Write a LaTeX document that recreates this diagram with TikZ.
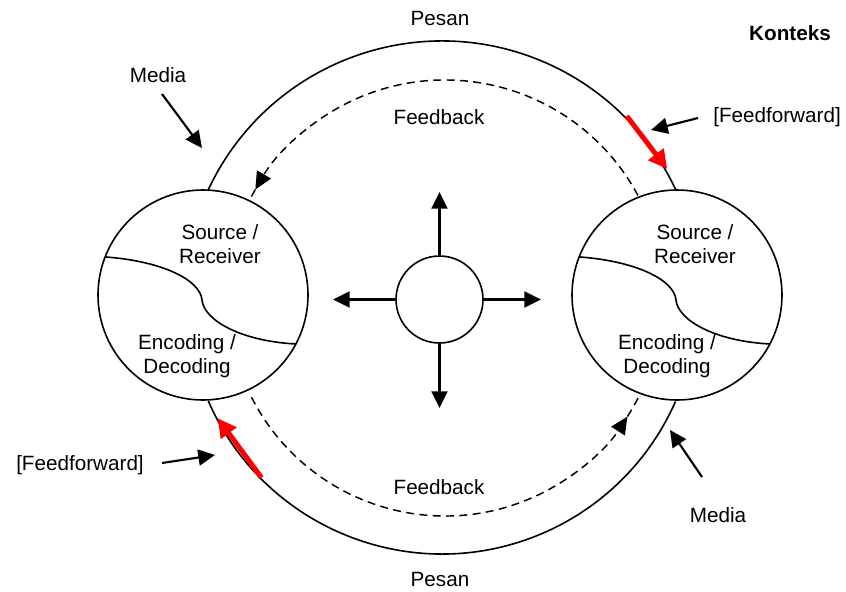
\documentclass[tikz,border=0pt]{standalone}
\usepackage{fontspec}
\setmainfont{Liberation Sans}
\usetikzlibrary{arrows.meta, calc}

\begin{document}
\begin{tikzpicture}[x=0.75pt,y=0.75pt,yscale=-1,xscale=1,
  txt/.style={inner sep=0.75pt, font=\fontsize{15.5}{18}\selectfont, align=center},
  ring/.style={circle, draw, line width=1.2pt, minimum size=157.5pt, inner sep=0pt},
  hub/.style={circle, draw, line width=1.2pt, minimum size=65.25pt, inner sep=0pt},
  arr/.style={line width=1.6pt, -{Triangle[length=12.5pt,width=12pt]}},
  redarr/.style={draw={rgb, 255:red, 255; green, 0; blue, 0}, line width=3.75pt, -{Triangle[length=14pt,width=14pt]}},
  fb/.style={line width=1.1pt, dash pattern=on 6pt off 4pt},
  pesan/.style={line width=1.2pt}]
\useasboundingbox (0,0) rectangle (846,592);

%Shape: Circle
\node [hub] (ctx) at (439.5,299.5) {};
\node [ring] (srcL) at (203,295) {};
\node [ring] (srcR) at (677,295) {};
\coordinate (msg) at (442,299);
\coordinate (fbc) at (445,299);

%Curves inside the circles
\foreach \cx in {203,677}{
\draw [line width=1.2pt] (\cx-97,257) .. controls (\cx-43,261) and (\cx-3,279) .. (\cx-1,300) .. controls (\cx+1,320) and (\cx+37,341) .. (\cx+93,344) ;
}

%Arrows from the hub
\coordinate (hubN) at (439.5,192);
\coordinate (hubS) at (439.5,408);
\coordinate (hubW) at (333,299.5);
\coordinate (hubE) at (541,299.5);
\draw [arr] (ctx.north) -- (hubN);
\draw [arr] (ctx.south) -- (hubS);
\draw [arr] (ctx.west) -- (hubW);
\draw [arr] (ctx.east) -- (hubE);

%Pesan arcs
\draw [pesan] (msg) ++(205:258) arc [start angle=205, end angle=335, radius=258];
\draw [pesan] (msg) ++(156.4:255) arc [start angle=156.4, end angle=23.7, radius=255];

%Feedback arcs
\draw [fb, -{Triangle[length=13pt,width=12pt]}] (fbc) ++(331.8:219) arc [start angle=331.8, end angle=210, radius=219];
\draw [fb] (fbc) ++(210:219) arc [start angle=210, end angle=207, radius=219];
\draw [fb, -{Triangle[length=13pt,width=12pt]}] (fbc) ++(153.1:217) arc [start angle=153.1, end angle=32.8, radius=217];
\draw [fb] (fbc) ++(32.8:217) arc [start angle=32.8, end angle=25.9, radius=217];

%Feedforward (red)
\coordinate (ffA1) at ($(msg)+(315.3:260)$);
\coordinate (ffA2) at ($(msg)+(330:260)$);
\coordinate (ffB1) at ($(msg)+(135.3:254)$);
\coordinate (ffB2) at ($(msg)+(152:254)$);
\draw [redarr] (ffA1) -- (ffA2);
\draw [redarr] (ffB1) -- (ffB2);

% Text Node
\node [txt] (pesanT) at (440,18) {Pesan};
\node [txt] (pesanB) at (440,579) {Pesan};
\node [txt] (fbT) at (439,117) {Feedback};
\node [txt] (fbB) at (439,487) {Feedback};
\node [txt, font=\fontsize{15.5}{18}\selectfont\bfseries] (konteks) at (790,33) {Konteks};
\node [txt] (srcLt) at (220,244) {Source /\\Receiver};
\node [txt] (encLt) at (187,356) {Encoding /\\Decoding};
\node [txt] (srcRt) at (695,244) {Source /\\Receiver};
\node [txt] (encRt) at (667,356) {Encoding /\\Decoding};
\node [txt] (medA) at (158,75) {Media};
\node [txt] (medB) at (718,515) {Media};
\node [txt] (ffA) at (777,117) {[Feedforward]};
\node [txt] (ffB) at (80,465) {[Feedforward]};

%Pointer arrows
\coordinate (medAs) at (162,94);
\coordinate (medAe) at (202,148);
\coordinate (medBs) at (702,477);
\coordinate (medBe) at (670,430);
\coordinate (ffAs) at (698,118);
\coordinate (ffAe) at (651,130);
\coordinate (ffBs) at (162,463);
\coordinate (ffBe) at (215,455);
\draw [arr] (medAs) -- (medAe);
\draw [arr] (medBs) -- (medBe);
\draw [arr] (ffAs) -- (ffAe);
\draw [arr] (ffBs) -- (ffBe);

\end{tikzpicture}
\end{document}
